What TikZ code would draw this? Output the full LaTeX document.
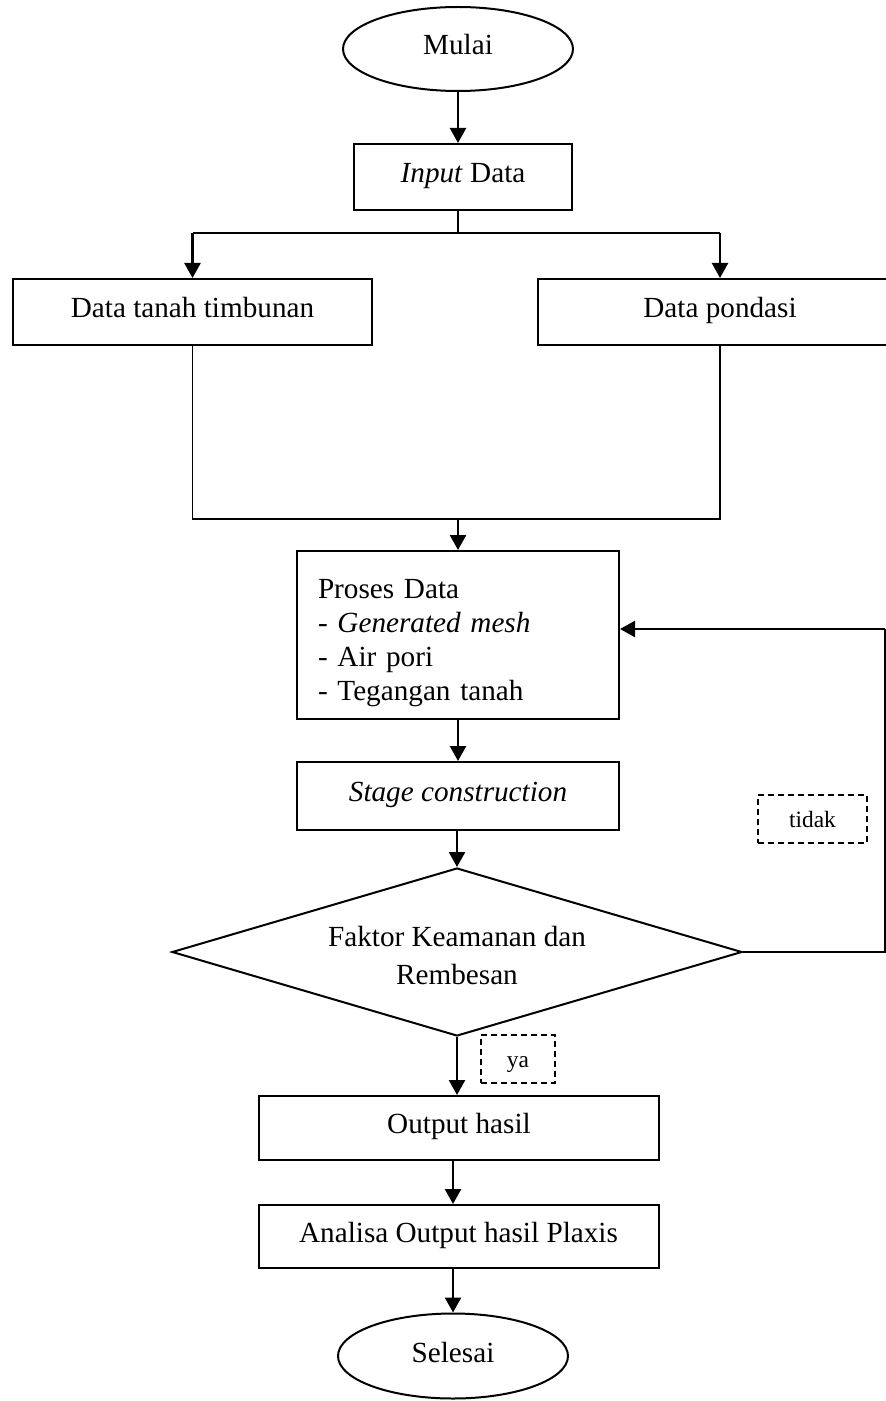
\documentclass[tikz,border=0pt]{standalone}
\usepackage{fontspec}
\setmainfont{Liberation Serif}
\usetikzlibrary{shapes.geometric,arrows.meta}

\begin{document}
\begin{tikzpicture}[x=0.5pt,y=-0.5pt,
  font=\fontsize{14.6}{17}\selectfont,
  box/.style={draw=lineColor,line width=1pt,rectangle,inner sep=0pt,align=center},
  oneline/.style={text height=8.5pt,text depth=3pt},
  terminal/.style={draw=lineColor,line width=1pt,ellipse,inner sep=0pt,
    minimum width=115pt,minimum height=42pt,text height=9pt,text depth=3pt},
  decision/.style={draw=lineColor,line width=1pt,diamond,inner sep=0pt,aspect=3.4,
    minimum width=285pt,minimum height=84pt,align=center,
    font=\fontsize{14.6}{19}\selectfont},
  answer/.style={draw=labelColor,line width=0.75pt,dash pattern=on 3pt off 2pt,
    rectangle,inner sep=0pt,text height=9pt,text depth=1pt,
    font=\fontsize{11.7}{14}\selectfont},
  link/.style={draw=lineColor,line width=0.8pt},
  flow/.style={draw=lineColor,line width=1.2pt,-{Triangle[length=7.5pt,width=8pt]}}
]
% Colors
\definecolor{lineColor}{RGB}{0,0,0}
\definecolor{labelColor}{RGB}{0,0,0}
% Page
\useasboundingbox (0,0) rectangle (886,1401);
\clip (0,0) rectangle (886,1401);
% Steps
\node[terminal] (mulai) at (458,49) {Mulai};
\node[box,oneline,minimum width=109pt,minimum height=33pt] (input) at (463,177) {\textit{Input} Data};
\node[box,oneline,minimum width=179.5pt,minimum height=33pt] (timbunan) at (192.5,312) {Data tanah timbunan};
\node[box,oneline,minimum width=182pt,minimum height=33pt] (pondasi) at (720,312) {Data pondasi};
\node[box,align=left,inner xsep=10.5pt,text width=140pt,minimum height=84pt] (proses) at (458,635)
  {\rule{0pt}{17.5pt}Proses Data\\- \textit{Generated mesh}\\- Air pori\\- Tegangan tanah};
\node[box,oneline,minimum width=161pt,minimum height=34pt] (stage) at (458,796) {\textit{Stage construction}};
\node[decision] (faktor) at (457,952) {\rule{0pt}{14pt}Faktor Keamanan dan\\Rembesan};
\node[box,oneline,minimum width=200pt,minimum height=32pt] (output) at (459,1128) {Output hasil};
\node[box,oneline,minimum width=200pt,minimum height=31.5pt] (analisa) at (458.5,1236.5) {Analisa Output hasil Plaxis};
\node[terminal,minimum height=42.5pt] (selesai) at (453,1356) {Selesai};
% Answers
\node[answer,minimum width=54.5pt,minimum height=24pt] (tidak) at (812.5,819) {tidak};
\node[answer,minimum width=37pt,minimum height=24pt] (ya) at (518,1059) {ya};
% Bends
\coordinate (split) at (458,233);
\coordinate (join) at (458,519);
\coordinate (loopLow) at (885,952);
\coordinate (loopHigh) at (885,629);
% Connectors
\draw[flow] (mulai.south) -- (mulai.south |- input.north);
\draw[link] (input.south -| split) -- (split);
\draw[link] (timbunan.north |- split) -- (pondasi.north |- split);
\draw[flow] (timbunan.north |- split) -- (timbunan.north);
\draw[flow] (pondasi.north |- split) -- (pondasi.north);
\draw[link] (timbunan.south) -- (timbunan.south |- join) -- (pondasi.south |- join) -- (pondasi.south);
\draw[flow] (join) -- (proses.north -| join);
\draw[flow] (proses.south) -- (stage.north);
\draw[flow] (stage.south -| faktor.north) -- (faktor.north);
\draw[link] (faktor.east) -- (loopLow) -- (loopHigh);
\draw[flow] (loopHigh) -- (loopHigh -| proses.east);
\draw[flow] (faktor.south) -- (faktor.south |- output.north);
\draw[flow] (selesai.north |- output.south) -- (selesai.north |- analisa.north);
\draw[flow] (selesai.north |- analisa.south) -- (selesai.north);
\end{tikzpicture}
\end{document}
